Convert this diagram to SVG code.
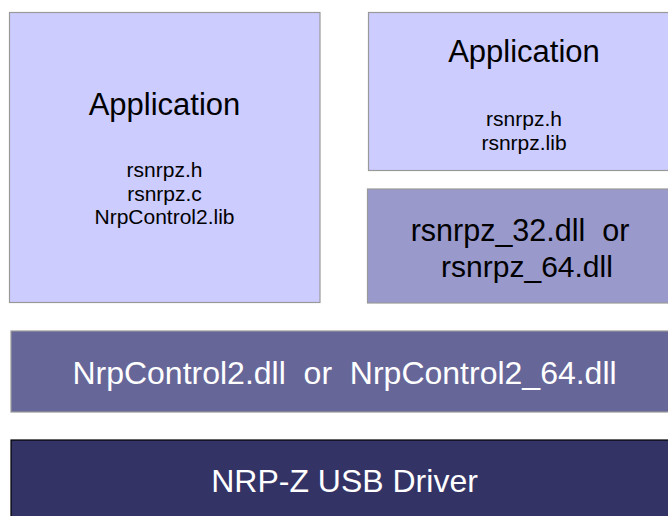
<svg xmlns="http://www.w3.org/2000/svg" width="668" height="516" viewBox="0 0 668 516">
<style>
.box{stroke:#999999;stroke-width:1.2}
.t{font-family:"Liberation Sans",Arial,sans-serif;text-anchor:middle}
.big{font-size:31px;fill:#000}
.small{font-size:21px;fill:#000}
.bar{font-size:32px;fill:#ffffff}
</style>
<rect width="668" height="516" fill="#ffffff"/>
<g id="app-left">
<rect class="box" x="9.5" y="12.5" width="310.5" height="290" fill="#ccccff"/>
<text class="t big" x="164.5" y="115">Application</text>
<text class="t small" x="164.5" y="177">rsnrpz.h</text>
<text class="t small" x="164.5" y="200.5">rsnrpz.c</text>
<text class="t small" x="164.5" y="224">NrpControl2.lib</text>
</g>
<g id="app-right">
<rect class="box" x="368.5" y="12.5" width="312" height="158" fill="#ccccff"/>
<text class="t big" x="524" y="61.5">Application</text>
<text class="t small" x="524" y="126">rsnrpz.h</text>
<text class="t small" x="524" y="149.5">rsnrpz.lib</text>
</g>
<g id="rsnrpz-dll">
<rect class="box" x="367.5" y="189" width="313" height="114" fill="#9999cc"/>
<text class="t" font-size="30.5" x="520" y="240.5" xml:space="preserve">rsnrpz_32.dll  or</text>
<text class="t" font-size="30" x="527" y="277">rsnrpz_64.dll</text>
</g>
<g id="nrpcontrol-dll">
<rect class="box" x="11" y="331" width="668" height="81" fill="#666699"/>
<text class="t bar" x="344.5" y="384" xml:space="preserve">NrpControl2.dll  or  NrpControl2_64.dll</text>
</g>
<g id="usb-driver">
<rect x="11" y="440" width="668" height="90" fill="#333366" stroke="#000000" stroke-width="1.2"/>
<text class="t bar" x="344.5" y="491.5">NRP-Z USB Driver</text>
</g>
<g id="connectors"></g>
</svg>
